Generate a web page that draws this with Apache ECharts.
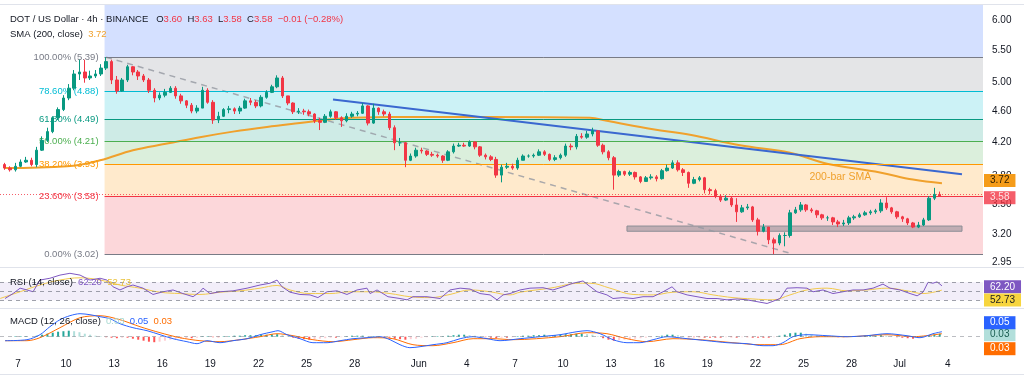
<!DOCTYPE html>
<html>
<head>
<meta charset="utf-8">
<title>DOT / US Dollar 4h</title>
<script src="https://cdn.jsdelivr.net/npm/echarts@6/dist/echarts.min.js"></script>
<style>
html,body{margin:0;padding:0;background:#fff;}
#main{width:1024px;height:377px;}
</style>
</head>
<body>
<div id="main"></div>
<script>
// day numbers: May = 1..31, Jun 1 = 32, Jul 1 = 62
var candleStart = 6.167;
var candleStep = 1 / 3;
var firstOpen = 3.93;
var closes = [
  3.89,3.87,3.91,3.96,3.98,3.93,4.10,4.22,4.33,4.51,
  4.62,4.78,4.92,5.13,5.16,5.07,5.10,5.13,5.22,5.32,
  5.04,4.88,5.04,5.24,5.16,5.10,5.04,4.89,4.78,4.82,
  4.86,4.92,4.81,4.74,4.68,4.60,4.64,4.89,4.72,4.48,
  4.53,4.62,4.63,4.60,4.64,4.74,4.72,4.67,4.79,4.86,
  4.94,5.07,4.81,4.71,4.59,4.60,4.59,4.56,4.47,4.45,
  4.53,4.59,4.51,4.47,4.53,4.56,4.57,4.67,4.44,4.64,
  4.59,4.56,4.38,4.19,4.19,3.98,4.03,4.10,4.09,4.05,
  4.04,4.03,3.98,4.08,4.15,4.16,4.15,4.20,4.14,4.04,
  4.02,3.99,3.81,3.90,3.91,3.89,3.98,4.03,4.03,4.04,
  4.08,4.05,3.99,4.01,4.04,4.15,4.14,4.27,4.26,4.30,
  4.34,4.16,4.08,4.01,3.81,3.85,3.82,3.84,3.79,3.74,
  3.78,3.79,3.77,3.86,3.89,3.95,3.87,3.84,3.72,3.76,
  3.78,3.65,3.64,3.58,3.54,3.56,3.49,3.42,3.46,3.47,
  3.34,3.23,3.27,3.15,3.12,3.19,3.19,3.41,3.44,3.49,
  3.44,3.43,3.39,3.36,3.36,3.32,3.30,3.31,3.36,3.37,
  3.39,3.41,3.42,3.43,3.51,3.46,3.42,3.37,3.35,3.31,
  3.27,3.29,3.34,3.56,3.60,3.58
];
var highs = [
  3.95,3.91,3.95,3.99,4.02,4.01,4.14,4.27,4.38,4.53,
  4.65,4.82,4.98,5.19,5.35,5.35,5.18,5.19,5.28,5.39,
  5.35,5.10,5.07,5.27,5.25,5.19,5.13,5.07,4.92,4.86,
  4.91,4.95,4.95,4.84,4.75,4.71,4.68,4.94,4.92,4.75,
  4.59,4.64,4.67,4.65,4.67,4.77,4.78,4.75,4.82,4.89,
  4.97,5.11,5.10,4.81,4.72,4.64,4.63,4.62,4.57,4.51,
  4.56,4.62,4.60,4.53,4.57,4.59,4.60,4.71,4.68,4.70,
  4.65,4.62,4.59,4.41,4.25,4.20,4.06,4.13,4.13,4.10,
  4.08,4.06,4.04,4.10,4.18,4.19,4.19,4.22,4.21,4.15,
  4.06,4.04,4.02,3.93,3.95,3.94,4.01,4.05,4.05,4.06,
  4.11,4.10,4.06,4.04,4.06,4.18,4.18,4.30,4.31,4.34,
  4.38,4.35,4.18,4.10,4.03,3.87,3.86,3.86,3.85,3.80,
  3.80,3.82,3.81,3.88,3.93,3.98,3.98,3.89,3.85,3.79,
  3.80,3.79,3.67,3.66,3.60,3.59,3.58,3.56,3.49,3.50,
  3.48,3.36,3.30,3.27,3.17,3.21,3.22,3.44,3.47,3.52,
  3.50,3.46,3.44,3.40,3.38,3.37,3.34,3.34,3.38,3.39,
  3.41,3.43,3.44,3.45,3.55,3.57,3.47,3.43,3.38,3.36,
  3.32,3.32,3.36,3.58,3.67,3.63
];
var lows = [
  3.87,3.85,3.85,3.90,3.95,3.91,3.90,4.09,4.20,4.31,
  4.48,4.60,4.75,4.89,5.04,5.00,5.04,5.07,5.10,5.19,
  4.98,4.84,4.87,5.01,5.11,5.04,5.01,4.85,4.72,4.75,
  4.79,4.85,4.77,4.70,4.64,4.57,4.57,4.64,4.70,4.43,
  4.44,4.52,4.57,4.56,4.56,4.63,4.68,4.64,4.65,4.77,
  4.85,4.92,4.78,4.68,4.56,4.56,4.55,4.53,4.44,4.35,
  4.44,4.51,4.48,4.39,4.45,4.51,4.53,4.56,4.41,4.43,
  4.55,4.53,4.35,4.10,4.15,3.90,3.97,4.01,4.06,4.03,
  4.02,4.01,3.95,3.97,4.06,4.14,4.14,4.14,4.11,4.02,
  3.99,3.97,3.78,3.73,3.88,3.87,3.87,3.98,4.01,4.01,
  4.03,4.03,3.97,3.97,3.99,4.02,4.10,4.11,4.24,4.24,
  4.27,4.14,4.05,3.98,3.65,3.79,3.80,3.80,3.76,3.72,
  3.74,3.76,3.74,3.76,3.85,3.88,3.85,3.80,3.67,3.71,
  3.74,3.61,3.60,3.56,3.52,3.53,3.47,3.32,3.41,3.44,
  3.32,3.19,3.22,3.11,3.02,3.10,3.09,3.17,3.40,3.42,
  3.42,3.41,3.36,3.34,3.33,3.29,3.27,3.28,3.29,3.34,
  3.36,3.38,3.39,3.40,3.41,3.44,3.40,3.35,3.32,3.29,
  3.26,3.26,3.28,3.33,3.54,3.58
];

// 200-bar SMA, [day, price]
var smaPoints = [
  [6.19,3.89],[10.06,3.91],[12.12,3.98],[14.17,4.10],[16.30,4.18],[18.35,4.26],
  [20.41,4.33],[22.53,4.39],[24.59,4.44],[27.09,4.50],[30.21,4.52],[36.44,4.52],
  [42.68,4.51],[43.74,4.47],[46.61,4.36],[48.92,4.29],[52.04,4.16],[55.16,4.07],
  [57.47,3.94],[60.77,3.84],[62.83,3.76],[64.64,3.72]
];
var smaLast = 3.72;

// fibonacci retracement
var fibPct = ['100.00', '78.60', '61.80', '50.00', '38.20', '23.60', '0.00'];
var fibPrices = [5.39, 4.88, 4.49, 4.21, 3.93, 3.58, 3.02];
var fibStartDay = 12.4;
var fibDiagonal = [[12.49, 5.39], [55.35, 3.02]];

// drawn trend line and support zone
var trendLine = [[26.65, 4.76], [65.89, 3.82]];
var supportZone = {from: 44.99, to: 65.89, top: 3.28, bottom: 3.23};
var smaNote = {day: 58.3, price: 3.79, text: '200-bar SMA'};

// RSI (14) and its MA, [day, value]
var rsiPoints = [
  [6.19,34],[6.69,45],[7.13,57],[7.56,53],[7.94,49],[8.37,75],[8.99,79],[9.62,86],[10.24,90],
  [10.87,86],[11.49,75],[12.12,79],[12.55,75],[12.93,60],[13.36,53],[13.80,60],[14.17,64],
  [14.80,57],[15.42,43],[16.05,49],[16.67,53],[17.29,45],[17.92,38],[18.35,49],[18.54,57],
  [18.98,45],[19.60,49],[20.41,51],[21.29,57],[22.10,64],[22.72,68],[23.16,75],[23.47,60],
  [23.97,48],[24.59,43],[25.22,42],[25.71,36],[26.28,49],[26.90,51],[27.52,43],[28.15,53],
  [28.77,57],[28.96,45],[29.40,53],[30.08,38],[30.83,34],[31.27,31],[31.64,38],[32.52,38],
  [33.33,34],[33.95,53],[34.58,57],[35.20,55],[35.82,45],[36.45,42],[36.88,31],[37.26,42],
  [37.69,45],[38.32,53],[38.94,57],[39.75,58],[40.37,53],[41.00,60],[41.62,68],[42.25,73],
  [42.56,64],[43.12,49],[43.74,42],[44.12,34],[44.74,36],[45.37,34],[45.99,38],[46.62,38],
  [47.24,49],[47.80,60],[48.11,49],[48.74,42],[49.36,38],[49.98,34],[50.61,34],[51.23,31],
  [51.86,33],[52.48,31],[53.10,27],[53.73,23],[54.04,27],[54.54,34],[54.97,57],[55.60,58],
  [56.22,57],[56.60,49],[57.22,53],[57.84,45],[58.47,49],[59.09,53],[59.72,53],[60.34,57],
  [60.96,66],[61.40,57],[62.02,53],[62.65,45],[63.09,40],[63.46,48],[63.77,70],[64.08,68],
  [64.33,71],[64.64,62.20]
];
var rsiMaPoints = [
  [5.88,34],[7.13,49],[8.37,64],[9.62,75],[10.87,80],[12.12,75],[13.36,64],[14.61,57],
  [15.86,48],[17.10,45],[18.35,43],[19.60,48],[20.85,51],[22.10,57],[23.16,63],[23.97,53],
  [25.22,45],[26.46,45],[27.71,49],[28.96,49],[30.21,45],[31.45,38],[32.70,36],[33.95,43],
  [35.20,53],[36.45,49],[37.69,42],[38.32,48],[40.19,57],[42.06,68],[42.68,68],[43.93,57],
  [45.37,43],[46.62,42],[47.86,48],[49.11,49],[50.36,42],[51.60,36],[52.85,33],[54.10,31],
  [55.16,42],[56.22,53],[57.47,57],[58.72,51],[59.96,53],[61.21,57],[62.46,51],[63.46,45],
  [64.64,52.73]
];
var rsiLevels = [70, 50, 30];

// MACD (12, 26), [day, value]
var macdPoints = [
  [6.19,-0.04],[7.56,-0.03],[8.37,0.02],[8.99,0.10],[9.62,0.17],[10.24,0.21],[10.87,0.23],
  [11.49,0.22],[12.12,0.20],[12.74,0.18],[13.36,0.13],[14.17,0.09],[15.05,0.06],[15.86,0.02],
  [16.67,-0.02],[17.54,-0.05],[18.17,-0.07],[18.79,-0.04],[19.60,-0.06],[20.41,-0.04],
  [21.29,-0.02],[22.10,0.02],[22.91,0.05],[23.22,0.06],[23.78,0.02],[24.59,-0.02],[25.40,-0.06],
  [26.28,-0.06],[27.09,-0.04],[27.90,-0.02],[28.77,-0.01],[29.58,0],[30.21,-0.03],[30.83,-0.08],
  [31.45,-0.11],[32.08,-0.10],[32.89,-0.08],[33.76,-0.06],[34.58,-0.02],[35.39,0],[36.26,-0.02],
  [37.07,-0.04],[38.32,-0.02],[39.56,0],[40.81,0.02],[41.87,0.05],[42.50,0.06],[43.31,0.03],
  [44.12,-0.03],[44.99,-0.06],[45.80,-0.06],[46.62,-0.03],[47.49,0],[48.74,-0.02],[49.98,-0.04],
  [51.23,-0.06],[52.48,-0.07],[53.48,-0.09],[54.10,-0.09],[54.72,-0.06],[55.35,0],[56.22,0.02],
  [57.47,0.01],[58.72,0],[59.96,0.01],[61.21,0.03],[62.46,0.01],[63.27,-0.01],[64.08,0.03],
  [64.64,0.05]
];
var signalPoints = [
  [6.19,-0.04],[7.56,-0.04],[8.37,-0.01],[9.62,0.09],[10.87,0.19],[12.12,0.21],[13.36,0.17],
  [14.61,0.10],[15.86,0.04],[17.10,-0.01],[18.35,-0.04],[19.60,-0.05],[20.85,-0.03],[22.10,0],
  [23.16,0.03],[24.16,0.01],[25.40,-0.03],[26.65,-0.05],[27.90,-0.03],[29.15,-0.01],[30.39,-0.02],
  [31.64,-0.08],[32.89,-0.09],[34.14,-0.06],[35.39,-0.02],[36.63,-0.02],[37.88,-0.03],[40.81,0],
  [42.50,0.04],[43.74,0.03],[44.99,-0.02],[46.24,-0.05],[47.86,-0.02],[49.55,-0.03],[51.60,-0.06],
  [53.29,-0.08],[54.54,-0.08],[55.78,-0.02],[57.03,0],[58.72,0],[61.21,0.02],[62.83,0],[64.64,0.03]
];
// histogram, one bar per candle
var histValues = [
  0,0,0.005,0.005,0.005,0,0.01,0.02,0.03,0.04,
  0.05,0.055,0.06,0.055,0.045,0.03,0.02,0.01,0.005,-0.005,
  -0.01,-0.015,-0.01,-0.01,-0.02,-0.03,-0.04,-0.05,-0.055,-0.05,
  -0.04,-0.03,-0.025,-0.02,-0.015,-0.015,-0.01,0.005,0.005,-0.005,
  -0.005,0.005,0.005,0.01,0.01,0.015,0.015,0.015,0.02,0.02,
  0.025,0.025,0.015,0.005,-0.01,-0.02,-0.025,-0.03,-0.025,-0.02,
  -0.015,-0.01,-0.01,-0.005,0.005,0.01,0.01,0.01,0.005,0.005,
  0.005,-0.005,-0.01,-0.02,-0.025,-0.03,-0.025,-0.02,-0.01,-0.005,
  0.005,0.005,0.005,0.01,0.015,0.02,0.02,0.015,0.01,0.005,
  -0.005,-0.01,-0.015,-0.01,-0.01,-0.005,0.005,0.01,0.01,0.015,
  0.015,0.02,0.015,0.015,0.02,0.025,0.025,0.03,0.03,0.025,
  0.02,0.005,-0.015,-0.03,-0.04,-0.035,-0.03,-0.025,-0.02,-0.015,
  -0.01,-0.005,0.005,0.01,0.02,0.02,0.015,0.005,-0.005,-0.005,
  -0.005,-0.01,-0.01,-0.01,-0.01,-0.005,-0.005,-0.01,-0.005,-0.005,
  -0.01,-0.01,-0.01,-0.01,-0.005,0.01,0.02,0.035,0.04,0.04,
  0.03,0.025,0.015,0.01,0.005,0.005,-0.005,-0.005,0.005,0.005,
  0.005,0.01,0.01,0.01,0.015,0.01,0.005,-0.005,-0.01,-0.015,
  -0.02,-0.015,-0.005,0.015,0.02,0.03
];

// axes
var priceTicks = [6.00, 5.50, 5.00, 4.60, 4.20, 3.80, 3.50, 3.20, 2.95];
var dayTicks = [7, 10, 13, 16, 19, 22, 25, 28, 32, 35, 38, 41, 44, 47, 50, 53, 56, 59, 62, 65];
var legendOHLC = {o: 3.60, h: 3.63, l: 3.58, c: 3.58, chg: '\u22120.01 (\u22120.28%)'};
var rsiLast = 62.20, rsiMaLast = 52.73;
var macdLast = 0.05, signalLast = 0.03;

//**********************************************************************************
var FONT = "'Liberation Sans', Arial, sans-serif";
var FS = 9.5;
var chart = echarts.init(document.getElementById('main'));
var LN = Math.log;
var xMin = 5.877, xMax = 67.2;
var lnTop = 1.838, lnBottom = 1.0703;
var UP = '#089981', DOWN = '#f23645';
var CLEAR = 'rgba(0,0,0,0)';

function dayLabel(v) {
    if (v <= 31) return String(v);
    if (v <= 61) return v === 32 ? 'Jun' : String(v - 31);
    return v === 62 ? 'Jul' : String(v - 61);
}
function lnPts(arr) {
    return arr.map(function (p) { return [p[0], LN(p[1])]; });
}
// price-scale tag at the right end of a horizontal level
function badge(y, text, bg, fg, dy) {
    return {
        yAxis: y,
        lineStyle: {color: CLEAR, width: 1},
        label: {
            show: true, position: 'end', distance: 1, formatter: text,
            backgroundColor: bg, color: fg, padding: [2, 6, 1, 6],
            fontSize: FS + 0.5, fontFamily: FONT, offset: [0, dy || 0]
        }
    };
}

var candleData = [];
var candleDays = [];
for (var i = 0; i < closes.length; i++) {
    var o = i === 0 ? firstOpen : closes[i - 1];
    var d = candleStart + i * candleStep;
    candleDays.push(d);
    candleData.push([d, LN(o), LN(closes[i]), LN(lows[i]), LN(highs[i])]);
}
var histData = histValues.map(function (v, i) { return [candleDays[i], v]; });

// fib bands: colour of the upper level at low alpha
var fibColors = ['#787b86', '#00bcd4', '#089981', '#4caf50', '#ff9800', '#f23645', '#787b86'];
var bandFill = ['rgba(120,123,134,0.2)', 'rgba(0,188,212,0.2)', 'rgba(8,153,129,0.2)',
    'rgba(76,175,80,0.2)', 'rgba(255,152,0,0.2)', 'rgba(242,54,69,0.2)'];
var bands = [[{coord: [fibStartDay, lnTop], itemStyle: {color: 'rgba(41,98,255,0.2)'}},
              {coord: [xMax, LN(fibPrices[0])]}]];
for (var b = 0; b < fibPrices.length - 1; b++) {
    bands.push([{coord: [fibStartDay, LN(fibPrices[b])], itemStyle: {color: bandFill[b]}},
                {coord: [xMax, LN(fibPrices[b + 1])]}]);
}
var fibLines = fibPrices.map(function (p, k) {
    return [{
        coord: [fibStartDay, LN(p)],
        lineStyle: {color: fibColors[k], width: 1, type: 'solid'},
        label: {show: true, position: 'start', distance: 6, color: fibColors[k],
            formatter: fibPct[k] + '% (' + p.toFixed(2) + ')', fontSize: FS, fontFamily: FONT}
    }, {coord: [xMax, LN(p)]}];
});

var option = {
    animation: false,
    textStyle: {fontFamily: FONT},
    grid: [
        {left: 0, right: 41, top: 5, height: 261},
        {left: 0, right: 41, top: 268, height: 40},
        {left: 0, right: 41, top: 308, height: 44}
    ],
    xAxis: [0, 1, 2].map(function (g) {
        return {
            type: 'value', gridIndex: g, min: xMin, max: xMax, show: g === 2,
            axisLine: {show: false}, axisTick: {show: false}, splitLine: {show: false},
            axisLabel: {customValues: dayTicks, formatter: dayLabel, color: '#131722',
                fontSize: FS + 0.5, margin: 7, fontFamily: FONT}
        };
    }),
    yAxis: [
        {
            type: 'value', gridIndex: 0, position: 'right', min: lnBottom, max: lnTop,
            splitLine: {show: false}, axisLine: {show: false}, axisTick: {show: false},
            axisLabel: {customValues: priceTicks.map(LN), color: '#131722', fontSize: FS + 0.5, margin: 9,
                fontFamily: FONT, formatter: function (v) { return Math.exp(v).toFixed(2); }}
        },
        {type: 'value', gridIndex: 1, position: 'right', min: 12.9, max: 101.8, show: false},
        {type: 'value', gridIndex: 2, position: 'right', min: -0.153, max: 0.287, show: false}
    ],
    graphic: [
        {type: 'line', shape: {x1: 0, y1: 4.5, x2: 1024, y2: 4.5}, style: {stroke: '#e0e3eb'}},
        {type: 'line', shape: {x1: 0, y1: 267.5, x2: 1024, y2: 267.5}, style: {stroke: '#e0e3eb'}},
        {type: 'line', shape: {x1: 0, y1: 308.5, x2: 1024, y2: 308.5}, style: {stroke: '#e0e3eb'}},
        {type: 'line', shape: {x1: 0, y1: 374.5, x2: 1024, y2: 374.5}, style: {stroke: '#e0e3eb'}},
        {
            type: 'text', left: 10, top: 14, z: 50,
            style: {
                text: '{a|DOT / US Dollar \u00b7 4h \u00b7 BINANCE}   {a|O}{v|' + legendOHLC.o.toFixed(2) +
                    '}  {a|H}{v|' + legendOHLC.h.toFixed(2) + '}  {a|L}{v|' + legendOHLC.l.toFixed(2) +
                    '}  {a|C}{v|' + legendOHLC.c.toFixed(2) + '}  {v|' + legendOHLC.chg + '}',
                font: FS + 'px ' + FONT,
                rich: {a: {fill: '#131722', fontSize: FS}, v: {fill: '#f23645', fontSize: FS}}
            }
        },
        {
            type: 'text', left: 10, top: 29, z: 50,
            style: {
                text: '{a|SMA (200, close)}  {s|' + smaLast.toFixed(2) + '}',
                font: FS + 'px ' + FONT,
                rich: {a: {fill: '#131722', fontSize: FS}, s: {fill: '#f0a12c', fontSize: FS}}
            }
        },
        {
            type: 'text', left: 10, top: 277, z: 50,
            style: {
                text: '{a|RSI (14, close)}  {p|' + rsiLast.toFixed(2) + '}  {y|' + rsiMaLast.toFixed(2) + '}',
                font: FS + 'px ' + FONT,
                rich: {a: {fill: '#131722', fontSize: FS}, p: {fill: '#7e57c2', fontSize: FS},
                    y: {fill: '#e8c13a', fontSize: FS}}
            }
        },
        {
            type: 'text', left: 10, top: 316, z: 50,
            style: {
                text: '{a|MACD (12, 26, close)}  {h|' + histValues[histValues.length - 1].toFixed(2) +
                    '}  {b|' + macdLast.toFixed(2) + '}  {o|' + signalLast.toFixed(2) + '}',
                font: FS + 'px ' + FONT,
                rich: {a: {fill: '#131722', fontSize: FS}, h: {fill: '#a6d8d0', fontSize: FS},
                    b: {fill: '#2962ff', fontSize: FS}, o: {fill: '#ff6d00', fontSize: FS}}
            }
        }
    ],
    series: [
        {
            name: 'fibBands', type: 'line', data: [], xAxisIndex: 0, yAxisIndex: 0, z: 1, silent: true,
            markArea: {silent: true, data: bands}
        },
        {
            name: 'fibLevels', type: 'line', data: [], xAxisIndex: 0, yAxisIndex: 0, z: 2, silent: true,
            markLine: {silent: true, symbol: 'none', data: fibLines}
        },
        {
            name: 'fibDiagonal', type: 'line', data: lnPts(fibDiagonal), xAxisIndex: 0, yAxisIndex: 0, z: 3,
            symbol: 'none', silent: true,
            lineStyle: {color: '#9598a1', width: 1.5, type: [6, 5], opacity: 0.8}
        },
        {
            name: 'support', type: 'line', data: [], xAxisIndex: 0, yAxisIndex: 0, z: 3, silent: true,
            markArea: {silent: true, data: [[
                {coord: [supportZone.from, LN(supportZone.top)],
                 itemStyle: {color: 'rgba(120,123,134,0.45)', borderColor: '#8d8f96', borderWidth: 1}},
                {coord: [supportZone.to, LN(supportZone.bottom)]}
            ]]}
        },
        {
            name: 'SMA 200', type: 'line', data: lnPts(smaPoints), xAxisIndex: 0, yAxisIndex: 0, z: 4,
            smooth: 0.4, symbol: 'none', silent: true,
            lineStyle: {color: '#f0a12c', width: 2},
            markLine: {silent: true, symbol: 'none', data: [badge(LN(smaLast), smaLast.toFixed(2), '#f59c1a', '#2b1d00', -4)]},
            markPoint: {
                silent: true, symbol: 'circle', symbolSize: 1, itemStyle: {color: CLEAR},
                data: [{coord: [smaNote.day, LN(smaNote.price)],
                    label: {show: true, position: 'inside', formatter: smaNote.text, color: '#f0a12c',
                        fontSize: FS + 1, fontFamily: FONT}}]
            }
        },
        {
            name: 'trend', type: 'line', data: lnPts(trendLine), xAxisIndex: 0, yAxisIndex: 0, z: 4,
            symbol: 'none', silent: true, lineStyle: {color: '#3a68d0', width: 2}
        },
        {
            name: 'DOT/USD', type: 'candlestick', data: candleData, xAxisIndex: 0, yAxisIndex: 0, z: 5,
            encode: {x: 0, y: [1, 2, 3, 4]}, barWidth: 3,
            itemStyle: {color: UP, color0: DOWN, borderColor: UP, borderColor0: DOWN, borderWidth: 1},
            markLine: {
                silent: true, symbol: 'none',
                data: [{
                    yAxis: LN(legendOHLC.c),
                    lineStyle: {color: DOWN, type: [1, 2], width: 1, opacity: 0.8},
                    label: {show: true, position: 'end', distance: 1, formatter: legendOHLC.c.toFixed(2),
                        backgroundColor: DOWN, color: '#fff', padding: [2, 6, 1, 6], fontSize: FS + 0.5,
                        fontFamily: FONT, offset: [0, 3]}
                }]
            }
        },
        {
            name: 'RSI', type: 'line', data: rsiPoints, xAxisIndex: 1, yAxisIndex: 1, z: 4,
            symbol: 'none', silent: true, lineStyle: {color: '#7e57c2', width: 1},
            markArea: {silent: true, itemStyle: {color: 'rgba(126,87,194,0.1)'},
                data: [[{yAxis: rsiLevels[0]}, {yAxis: rsiLevels[2]}]]},
            markLine: {
                silent: true, symbol: 'none',
                data: rsiLevels.map(function (v) {
                    return {yAxis: v, label: {show: false},
                        lineStyle: {color: '#787b86', type: [4, 4], width: 1, opacity: 0.7}};
                }).concat([badge(rsiLast, rsiLast.toFixed(2), '#7e57c2', '#fff', 1)])
            }
        },
        {
            name: 'RSI MA', type: 'line', data: rsiMaPoints, xAxisIndex: 1, yAxisIndex: 1, z: 3,
            smooth: 0.4, symbol: 'none', silent: true, lineStyle: {color: '#f2c94c', width: 1},
            markLine: {silent: true, symbol: 'none', data: [badge(rsiMaLast, rsiMaLast.toFixed(2), '#f7d53e', '#222', 10)]}
        },
        {
            name: 'Histogram', type: 'bar', data: histData, xAxisIndex: 2, yAxisIndex: 2, z: 2,
            barWidth: 2, silent: true,
            itemStyle: {
                color: function (p) {
                    var v = histValues[p.dataIndex];
                    var prev = p.dataIndex > 0 ? histValues[p.dataIndex - 1] : 0;
                    if (v >= 0) return v >= prev ? '#26a69a' : '#b2dfdb';
                    return v <= prev ? '#ff5252' : '#ffcdd2';
                }
            },
            markLine: {
                silent: true, symbol: 'none',
                data: [{yAxis: 0, label: {show: false},
                        lineStyle: {color: '#787b86', type: [4, 4], width: 1, opacity: 0.5}},
                       badge(0, histValues[histValues.length - 1].toFixed(2), '#b2dfdb', '#1b5e52', -2)]
            }
        },
        {
            name: 'MACD', type: 'line', data: macdPoints, xAxisIndex: 2, yAxisIndex: 2, z: 4,
            smooth: 0.3, symbol: 'none', silent: true, lineStyle: {color: '#2962ff', width: 1},
            markLine: {silent: true, symbol: 'none', data: [badge(macdLast, macdLast.toFixed(2), '#2962ff', '#fff', -9)]}
        },
        {
            name: 'Signal', type: 'line', data: signalPoints, xAxisIndex: 2, yAxisIndex: 2, z: 3,
            smooth: 0.3, symbol: 'none', silent: true, lineStyle: {color: '#ff6d00', width: 1},
            markLine: {silent: true, symbol: 'none', data: [badge(signalLast, signalLast.toFixed(2), '#ff6d00', '#fff', 15)]}
        }
    ]
};
chart.setOption(option);
</script>
</body>
</html>
